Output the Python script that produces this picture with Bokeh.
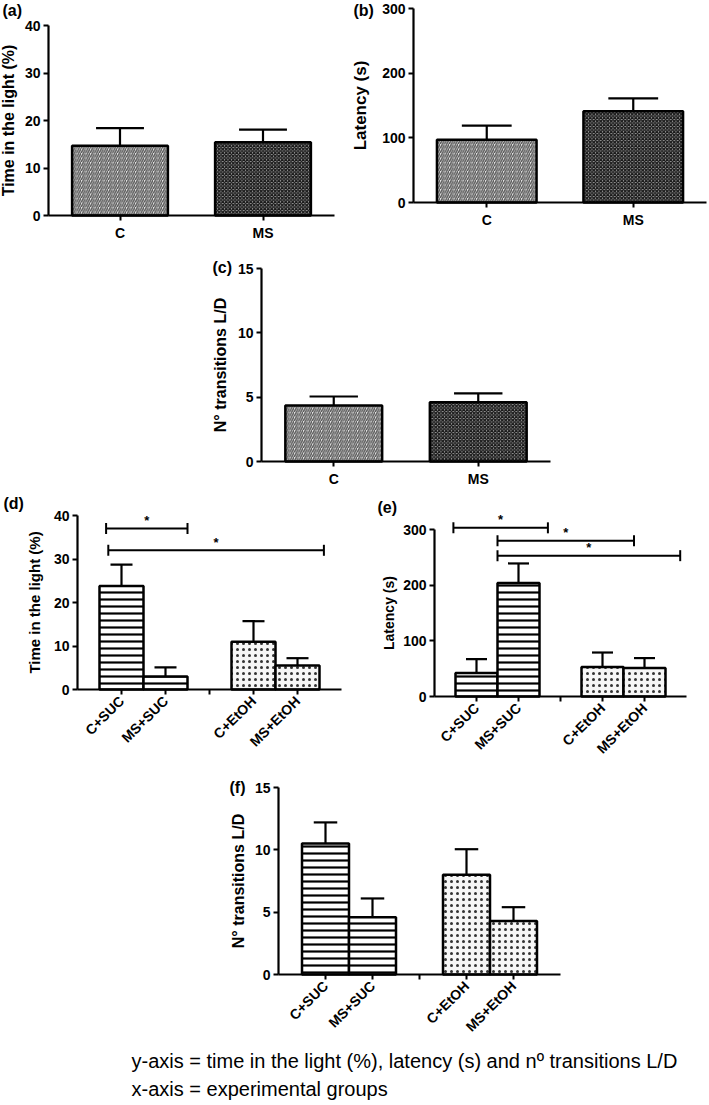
import math
from bokeh.plotting import figure
from bokeh.models import Range1d, FixedTicker, Label, Spacer, ColumnDataSource
from bokeh.layouts import column, row
from bokeh.embed import file_html
from bokeh.resources import INLINE
from bokeh.core.properties import value

FONT = "Liberation Sans"

# ---------------- data ----------------
groups_2 = ["C", "MS"]
time_light_2 = [14.7, 15.4]
time_light_2_sem = [3.7, 2.7]
latency_2 = [97, 141]
latency_2_sem = [22, 20]
transitions_2 = [4.35, 4.6]
transitions_2_sem = [0.7, 0.7]

slots_4 = ["C+SUC", "MS+SUC", "", "C+EtOH", "MS+EtOH"]
groups_4 = ["C+SUC", "MS+SUC", "C+EtOH", "MS+EtOH"]
time_light_4 = [23.8, 3.0, 11.0, 5.5]
time_light_4_sem = [4.9, 2.1, 4.7, 1.7]
latency_4 = [42, 204, 53, 51]
latency_4_sem = [25, 35, 26, 18]
transitions_4 = [10.5, 4.6, 8.0, 4.3]
transitions_4_sem = [1.7, 1.5, 2.05, 1.1]

# significance brackets: start / end (x, group slots) and height (y)
sig_d_x0 = [0.65, 0.7]
sig_d_x1 = [2.5, 5.6]
sig_d_y = [37.0, 32.0]
sig_e_x0 = [0.45, 1.5, 1.5]
sig_e_x1 = [2.7, 4.75, 5.85]
sig_e_y = [303, 280, 253]

ticks_time = [0, 10, 20, 30, 40]
ticks_latency = [0, 100, 200, 300]
ticks_transitions = [0, 5, 10, 15]

caption_lines = ["y-axis = time in the light (%), latency (s) and n\u00ba transitions L/D",
                 "x-axis = experimental groups"]

# ---------------- styles ----------------
STYLE = {
    "C": dict(fill_color="#e6e6e6", hatch_pattern="right_diagonal_line",
              hatch_color="#555555", hatch_scale=4.5, hatch_weight=1.4),
    "MS": dict(fill_color="#a8a8a8", hatch_pattern="diagonal_cross",
               hatch_color="#1a1a1a", hatch_scale=3.5, hatch_weight=1.4),
    "SUC": dict(fill_color="white", hatch_pattern="horizontal_line",
                hatch_color="black", hatch_scale=7, hatch_weight=2.2),
    "EtOH": dict(fill_color="#f6f6f6", hatch_pattern="dot",
                 hatch_color="#333333", hatch_scale=6, hatch_weight=2),
}

# page geometry: figure box (x, y, w, h) and plot region (left, top, right, bottom)
GEO = {
    "a": ((0, 0, 350, 250), (48, 25, 334, 215)),
    "b": ((350, 0, 358, 250), (413, 8, 706, 202)),
    "c": ((150, 250, 420, 240), (261, 268, 550, 461)),
    "d": ((0, 490, 350, 268), (77, 515, 341, 689)),
    "e": ((350, 490, 358, 268), (434, 529, 686, 696)),
    "f": ((172, 758, 408, 282), (278, 787, 560, 974)),
}
TAG_POS = {"a": (2, 10), "b": (353, 10), "c": (212, 267),
           "d": (3, 503), "e": (377, 507), "f": (229, 787)}


def to_data(key, xr, yr, px, py):
    (_, (l, t, r, b)) = GEO[key]
    x = xr[0] + (px - l) / (r - l) * (xr[1] - xr[0])
    y = yr[1] - (py - t) / (b - t) * (yr[1] - yr[0])
    return x, y


def make_panel(key, xr, yr, yticks, xticks, xlabels, ylabel, ylabel_size,
               ylabel_standoff, rotate=False):
    (fx, fy, fw, fh), (l, t, r, b) = GEO[key]
    x0, y1 = to_data(key, xr, yr, fx, fy)
    x1, y0 = to_data(key, xr, yr, fx + fw, fy + fh)
    p = figure(width=fw, height=fh, x_range=Range1d(x0, x1), y_range=Range1d(y0, y1),
               output_backend="svg", toolbar_location=None, min_border=0)
    p.outline_line_color = None
    p.xgrid.visible = False
    p.ygrid.visible = False
    xa, ya = p.xaxis[0], p.yaxis[0]
    xa.fixed_location = yr[0]
    xa.bounds = xr
    ya.fixed_location = xr[0]
    ya.bounds = yr
    for ax in (xa, ya):
        ax.axis_line_width = 2.2
        ax.axis_line_color = "black"
        ax.major_tick_line_width = 2
        ax.major_tick_line_color = "black"
        ax.major_tick_out = 5
        ax.major_tick_in = 0
        ax.minor_tick_line_color = None
        ax.major_label_text_font = FONT
        ax.major_label_text_font_style = "bold"
        ax.major_label_text_font_size = "14px"
        ax.major_label_text_color = "black"
        ax.major_label_standoff = 3
    ya.ticker = FixedTicker(ticks=yticks)
    xa.ticker = FixedTicker(ticks=xticks)
    xa.major_label_overrides = {k: v for k, v in zip(xticks, xlabels)}
    xa.major_label_standoff = 4
    if rotate:
        xa.major_label_orientation = math.pi / 4
    ya.axis_label = ylabel
    ya.axis_label_text_font = FONT
    ya.axis_label_text_font_style = "bold"
    ya.axis_label_text_font_size = ylabel_size
    ya.axis_label_text_color = "black"
    ya.axis_label_standoff = ylabel_standoff
    tx, ty = TAG_POS[key]
    dx, dy = to_data(key, xr, yr, tx, ty)
    p.add_layout(Label(x=dx, y=dy, text="(%s)" % key, text_font=FONT,
                       text_font_style="bold", text_font_size="16px",
                       text_baseline="middle", text_align="left",
                       text_color="black"))
    return p


def draw_bars(p, xs, tops, sems, width, style_keys):
    for x, top, sk in zip(xs, tops, style_keys):
        p.vbar(x=[x], top=[top], bottom=0, width=width, line_color="black",
               line_width=2.5, **STYLE[sk])
    src = ColumnDataSource(dict(
        x=xs, top=tops, up=[t + s for t, s in zip(tops, sems)],
        cx0=[x - width / 4 for x in xs], cx1=[x + width / 4 for x in xs]))
    p.segment(x0="x", y0="top", x1="x", y1="up", source=src,
              line_color="black", line_width=2.2)
    p.segment(x0="cx0", y0="up", x1="cx1", y1="up", source=src,
              line_color="black", line_width=2.2)


def draw_brackets(p, x0s, x1s, ys):
    src = ColumnDataSource(dict(x0=x0s, x1=x1s, y=ys,
                                xm=[(a + b) / 2 for a, b in zip(x0s, x1s)],
                                t=["*"] * len(ys)))
    p.segment(x0="x0", y0="y", x1="x1", y1="y", source=src,
              line_color="black", line_width=2)
    ends = ColumnDataSource(dict(x=list(x0s) + list(x1s), y=list(ys) + list(ys)))
    p.scatter(x="x", y="y", source=ends, marker="dash", angle=math.pi / 2,
              size=11, line_color="black", line_width=2)
    p.text(x="xm", y="y", text="t", source=src, text_font=value(FONT),
           text_font_style="bold", text_font_size="13px", text_align="center",
           text_baseline="middle", y_offset=-8, text_color="black")


# ---------------- two-group panels ----------------
pos2 = list(range(len(groups_2)))
xr2 = (-0.5, len(groups_2) - 0.5)
style2 = list(groups_2)

pa = make_panel("a", xr2, (0, 40), ticks_time, pos2, groups_2,
                "Time in the light (%)", "16px", 5)
draw_bars(pa, pos2, time_light_2, time_light_2_sem, 0.67, style2)

pb = make_panel("b", xr2, (0, 300), ticks_latency, pos2, groups_2,
                "Latency (s)", "17px", 9)
draw_bars(pb, pos2, latency_2, latency_2_sem, 0.68, style2)

pc = make_panel("c", xr2, (0, 15), ticks_transitions, pos2, groups_2,
                "N\u00b0 transitions L/D", "16px", 6)
draw_bars(pc, pos2, transitions_2, transitions_2_sem, 0.67, style2)

# ---------------- four-group panels ----------------
slot_ticks = [i + 1 for i in range(len(slots_4))]
pos4 = [slots_4.index(g) + 1 for g in groups_4]
xr4 = (0, len(slots_4) + 1)
style4 = [g.split("+")[1] for g in groups_4]

pd_ = make_panel("d", xr4, (0, 40), ticks_time, slot_ticks, slots_4,
                 "Time in the light (%)", "15px", 8, rotate=True)
draw_bars(pd_, pos4, time_light_4, time_light_4_sem, 1.0, style4)
draw_brackets(pd_, sig_d_x0, sig_d_x1, sig_d_y)

pe = make_panel("e", xr4, (0, 300), ticks_latency, slot_ticks, slots_4,
                "Latency (s)", "14px", 3, rotate=True)
draw_bars(pe, pos4, latency_4, latency_4_sem, 1.0, style4)
draw_brackets(pe, sig_e_x0, sig_e_x1, sig_e_y)

pf = make_panel("f", xr4, (0, 15), ticks_transitions, slot_ticks, slots_4,
                "N\u00b0 transitions L/D", "16px", 5, rotate=True)
draw_bars(pf, pos4, transitions_4, transitions_4_sem, 1.0, style4)

# ---------------- caption ----------------
cap = figure(width=708, height=62, x_range=Range1d(0, 708), y_range=Range1d(62, 0),
             x_axis_type=None, y_axis_type=None, output_backend="svg",
             toolbar_location=None, min_border=0)
cap.outline_line_color = None
cap.xgrid.visible = False
cap.ygrid.visible = False
for i, line in enumerate(caption_lines):
    cap.add_layout(Label(x=131, y=20 + 28 * i, text=line, text_font=FONT,
                         text_font_size="20px", text_baseline="middle",
                         text_align="left", text_color="black"))

layout = column(
    row(pa, pb),
    row(Spacer(width=150, height=240), pc),
    row(pd_, pe),
    row(Spacer(width=172, height=282), pf),
    cap,
)

open("out.html", "w").write(file_html(layout, INLINE))
